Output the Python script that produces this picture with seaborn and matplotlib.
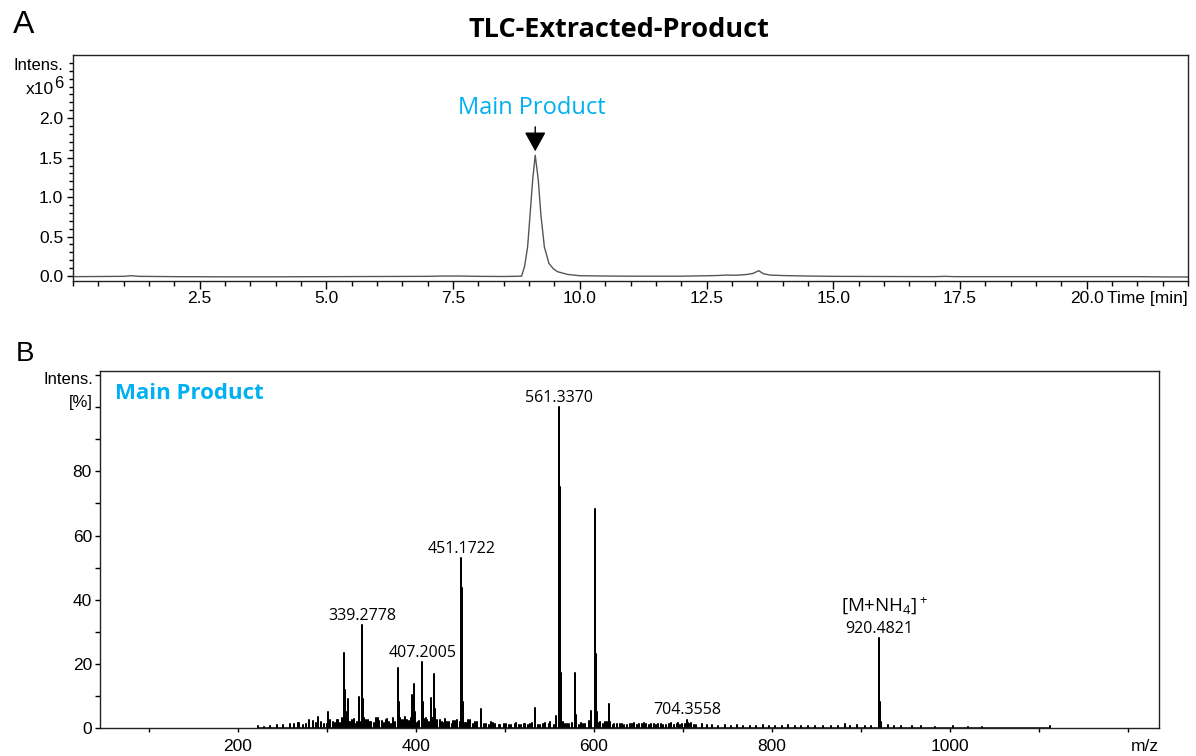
import numpy as np
import pandas as pd
import matplotlib
matplotlib.use("Agg")
import matplotlib.pyplot as plt
from matplotlib.ticker import FixedLocator, MultipleLocator, NullFormatter
import seaborn as sns

# ---------------- data ----------------
# Panel A: chromatogram (time in min, intensity x10^6)
chrom_time = [0.0, 0.5, 1.0, 1.15, 1.3, 2.0, 3.0, 4.0, 5.0, 6.0, 7.0, 7.3, 7.6, 8.0, 8.5,
              8.85, 8.91, 8.97, 9.02, 9.07, 9.12, 9.18, 9.23, 9.30, 9.39, 9.48, 9.56, 9.76,
              10.0, 10.5, 11.0, 12.0, 12.7, 12.9, 13.1, 13.3, 13.42, 13.53, 13.62, 13.75,
              14.0, 14.5, 15.0, 16.0, 17.0, 17.2, 17.4, 18.0, 19.0, 20.0, 21.0, 21.6, 22.0]
chrom_int = [-0.008, -0.006, -0.004, 0.004, -0.004, -0.008, -0.01, -0.01, -0.008, -0.006,
             -0.004, 0.0, 0.0, -0.004, -0.006, -0.002, 0.12, 0.37, 0.79, 1.22, 1.53, 1.22,
             0.79, 0.37, 0.16, 0.09, 0.055, 0.02, 0.004, 0.0, -0.002, -0.002, 0.006, 0.012,
             0.01, 0.02, 0.034, 0.067, 0.03, 0.012, 0.006, 0.0, -0.004, -0.006, -0.008,
             -0.004, -0.008, -0.008, -0.008, -0.008, -0.008, -0.012, -0.012]
chrom_yticks = [0.0, 0.5, 1.0, 1.5, 2.0]
chrom_xticks = [2.5, 5.0, 7.5, 10.0, 12.5, 15.0, 17.5, 20.0]

# Panel B: mass spectrum, main peaks (m/z, relative intensity %)
peak_mz = [268.2, 280.2, 290.2, 301.2, 319.3, 319.8, 320.3, 321.3, 323.3, 336.2, 339.28,
           339.8, 340.3, 341.3, 355.2, 380.2, 380.7, 381.2, 382.2, 395.2, 396.2, 398.2,
           399.2, 407.2, 407.7, 408.2, 409.2, 417.2, 418.2, 420.6, 421.6, 451.17, 451.5,
           452.2, 453.2, 473.2, 534.3, 557.5, 561.34, 561.6, 562.34, 563.34, 579.3, 580.3,
           596.5, 601.3, 601.6, 602.3, 603.3, 617.3, 618.3, 704.36, 705.4, 920.48, 920.8,
           921.5, 922.5]
peak_int = [1.5, 2.5, 3.4, 5.0, 23.3, 12.0, 10.0, 5.0, 9.0, 9.6, 32.0, 12.0, 9.0, 3.0, 3.0,
            18.6, 8.0, 7.0, 3.0, 10.3, 4.0, 13.7, 5.0, 20.5, 8.0, 7.0, 2.5, 9.3, 3.0, 16.8,
            6.0, 52.9, 43.5, 35.0, 8.0, 6.0, 6.2, 3.8, 100.0, 75.0, 34.0, 17.0, 17.0, 4.0,
            5.3, 68.4, 51.6, 23.0, 5.0, 7.5, 2.0, 2.5, 1.5, 28.0, 15.0, 8.1, 2.0]
# small background signals
noise_mz = [222, 229, 236, 244, 251, 258, 263, 268, 273, 277, 284, 288, 293, 297, 304, 307,
            311, 315, 326, 330, 334, 344, 348, 353, 357, 362, 366, 370, 374, 377, 385, 388,
            392, 402, 411, 413, 424, 429, 433, 437, 442, 446, 456, 461, 466, 479, 484, 489,
            495, 501, 507, 513, 518, 523, 528, 539, 545, 551, 567, 572, 585, 590, 607, 612,
            623, 629, 634, 640, 645, 651, 656, 662, 667, 672, 678, 684, 690, 695, 699, 709,
            715, 721, 727, 733, 740, 747, 754, 761, 768, 775, 782, 790, 797, 804, 811, 818,
            826, 833, 841, 849, 857, 866, 874, 882, 888, 896, 905, 911, 931, 937, 945, 957,
            968, 983, 1003, 1020, 1036, 1112]
noise_int = [0.5, 0.4, 0.6, 0.8, 1.0, 1.4, 1.2, 1.6, 0.9, 1.3,
             2.2, 1.5, 2.0, 1.4, 2.6, 1.8, 2.4, 1.6, 2.0, 2.8,
             1.8, 2.5, 2.0, 1.6, 3.0, 2.2, 2.6, 1.8, 3.2, 2.0,
             2.4, 3.5, 2.2, 2.0, 3.0, 2.4, 2.6, 2.0, 2.8, 1.8,
             2.2, 2.6, 1.6, 2.4, 1.8, 1.4, 2.0, 1.2, 1.0, 1.4,
             1.0, 1.6, 0.9, 1.2, 1.4, 1.0, 1.6, 1.8, 1.2, 1.4,
             1.6, 1.4, 1.8, 2.0, 1.4, 1.2, 1.0, 1.3, 1.5, 1.1,
             1.6, 1.0, 1.2, 1.4, 0.9, 1.3, 1.0, 1.6, 1.2, 1.5,
             1.0, 1.2, 0.8, 1.0, 0.6, 0.9, 0.7, 0.8, 0.6, 0.7,
             0.6, 0.8, 0.5, 0.7, 0.6, 0.8, 0.5, 0.6, 0.7, 0.5,
             0.6, 0.5, 0.7, 1.4, 0.6, 1.0, 0.5, 0.6, 0.8, 0.6,
             0.5, 0.6, 0.5, 0.4, 0.5, 0.4, 0.4, 0.5]
noise2_mz = [300, 302, 309, 313, 317, 322, 325, 328, 332, 337, 343, 346, 350, 359, 364, 368,
             372, 376, 383, 387, 390, 394, 400, 404, 410, 415, 419, 423, 427, 431, 435, 440,
             444, 449, 455, 459, 464, 469, 476, 482, 487, 493, 499, 505, 511, 516, 521, 526,
             531, 537, 543, 549, 555, 565, 570, 575, 583, 588, 594, 605, 610, 615, 621, 626,
             632, 637, 643, 648, 654, 659, 664, 670, 675, 681, 687, 693, 697, 702, 707, 712]
noise2_int = [1.2, 2.0, 1.6, 2.4, 3.0, 2.2, 1.8, 2.6, 1.4, 2.0,
              1.6, 2.4, 1.8, 2.2, 1.6, 2.8, 1.4, 2.0, 2.6, 1.8,
              2.4, 3.0, 1.6, 2.2, 2.8, 2.0, 3.2, 1.8, 2.4, 1.6,
              2.0, 1.4, 2.2, 1.8, 1.6, 2.4, 1.2, 1.8, 1.4, 1.0,
              1.6, 0.8, 1.2, 1.0, 1.4, 0.8, 1.2, 1.0, 1.6, 0.9,
              1.2, 1.4, 1.0, 1.8, 1.2, 1.6, 1.0, 1.4, 2.2, 1.6,
              1.2, 1.8, 1.0, 1.4, 1.2, 0.8, 1.3, 1.0, 1.4, 1.1,
              1.2, 0.9, 1.3, 1.0, 1.5, 1.2, 0.9, 1.4, 1.1, 0.8]
label_mz = [339.28, 407.2, 451.17, 561.34, 704.36, 920.48]
label_int = [32.0, 20.5, 52.9, 100.0, 2.5, 28.0]
label_text = ["339.2778", "407.2005", "451.1722", "561.3370", "704.3558", "920.4821"]
ms_yticks = [0, 20, 40, 60, 80]
ms_xticks = [200, 400, 600, 800, 1000]

assert len(chrom_time) == len(chrom_int)
assert len(peak_mz) == len(peak_int)
assert len(noise_mz) == len(noise_int)
assert len(noise2_mz) == len(noise2_int)

# ---------------- style ----------------
sns.set_style("ticks")
plt.rcParams["font.family"] = ["Liberation Sans", "DejaVu Sans"]
plt.rcParams["mathtext.fontset"] = "custom"
plt.rcParams["mathtext.rm"] = "Open Sans"
plt.rcParams["mathtext.it"] = "Open Sans:italic"
plt.rcParams["mathtext.bf"] = "Open Sans:bold"
plt.rcParams["mathtext.sf"] = "Liberation Sans"
for k in ["text.color", "axes.labelcolor", "xtick.color", "ytick.color"]:
    plt.rcParams[k] = "black"
CYAN = "#00B0F0"
ANN = "Open Sans"

W, H = 1196, 756
fig = plt.figure(figsize=(W / 100, H / 100), dpi=100)
ax1 = fig.add_axes([73 / W, 1 - 281 / H, 1115 / W, 226 / H])
ax2 = fig.add_axes([100 / W, 1 - 728 / H, 1059 / W, 357 / H])

# ---------------- panel A ----------------
chrom = pd.DataFrame({"time": chrom_time, "intensity": chrom_int})
sns.lineplot(data=chrom, x="time", y="intensity", ax=ax1, color="#555555",
             linewidth=1.0, estimator=None)
ax1.set_xlim(0, 22.0)
ax1.set_ylim(-0.063, 2.8)
ax1.set_xlabel("")
ax1.set_ylabel("")
ax1.xaxis.set_major_locator(FixedLocator(chrom_xticks))
ax1.set_xticklabels([f"{v:.1f}" for v in chrom_xticks])
ax1.xaxis.set_minor_locator(MultipleLocator(0.5))
ax1.yaxis.set_major_locator(FixedLocator(chrom_yticks))
ax1.set_yticklabels([f"{v:.1f}" for v in chrom_yticks])
ax1.yaxis.set_minor_locator(FixedLocator(np.arange(0, 2.75, 0.1)))
ax1.yaxis.set_minor_formatter(NullFormatter())
ax1.tick_params(axis="x", which="major", length=5.8, width=1, pad=1.5, labelsize=12.5)
ax1.tick_params(axis="x", which="minor", length=3.4, width=1)
ax1.tick_params(axis="y", which="major", length=4, width=1, pad=3, labelsize=12.5)
ax1.tick_params(axis="y", which="minor", length=2.6, width=1)
for s in ax1.spines.values():
    s.set_visible(True)
    s.set_linewidth(1.0)
    s.set_color("#222222")

ax1.annotate("Time [min]", xy=(1, 0), xycoords="axes fraction", xytext=(0, -7.4),
             textcoords="offset points", ha="right", va="top", fontsize=12.5)
ax1.text(9.05, 2.13, "Main Product", color=CYAN, fontsize=17, family=ANN,
         ha="center", va="center")
ax1.annotate("", xy=(9.12, 1.58), xytext=(9.12, 1.89),
             arrowprops=dict(arrowstyle="-|>,head_length=0.4,head_width=0.22",
                             color="black", lw=1, mutation_scale=30,
                             shrinkA=0, shrinkB=0))

fig.text(63 / W, 1 - 65 / H, "Intens.", ha="right", va="center", fontsize=12)
fig.text(54 / W, 1 - 90 / H, "x10", ha="right", va="center", fontsize=12.5)
fig.text(54.5 / W, 1 - 84 / H, "6", ha="left", va="center", fontsize=12)

# ---------------- panel B ----------------
sticks = sorted(list(zip(peak_mz, peak_int)) + list(zip(noise_mz, noise_int))
                + list(zip(noise2_mz, noise2_int)))
prof_x, prof_y = [], []
for m, h in sticks:
    prof_x += [m, m, m]
    prof_y += [0.0, h, 0.0]
spec = pd.DataFrame({"mz": prof_x, "intensity": prof_y})
sns.lineplot(data=spec, x="mz", y="intensity", ax=ax2, color="black", linewidth=1.1,
             estimator=None, sort=False)
ax2.set_xlim(45, 1235)
ax2.set_ylim(0, 111.3)
ax2.set_xlabel("")
ax2.set_ylabel("")
ax2.xaxis.set_major_locator(FixedLocator(ms_xticks))
ax2.set_xticklabels([str(v) for v in ms_xticks])
ax2.xaxis.set_minor_locator(FixedLocator(np.arange(100, 1201, 100)))
ax2.yaxis.set_major_locator(FixedLocator(ms_yticks))
ax2.set_yticklabels([str(v) for v in ms_yticks])
ax2.yaxis.set_minor_locator(FixedLocator(np.arange(10, 111, 10)))
ax2.tick_params(axis="x", which="both", length=3.2, width=1, pad=4.5, labelsize=12.5)
ax2.tick_params(axis="y", which="both", length=3.8, width=1, pad=2, labelsize=12.5)
for s in ax2.spines.values():
    s.set_visible(True)
    s.set_linewidth(1.0)
    s.set_color("#222222")

ax2.annotate("m/z", xy=(1, 0), xycoords="axes fraction", xytext=(0, -7.8),
             textcoords="offset points", ha="right", va="top", fontsize=12.5)

for m, h, t in zip(label_mz, label_int, label_text):
    ax2.annotate(t, xy=(m, h), xytext=(0, 4), textcoords="offset points",
                 ha="center", va="baseline", fontsize=11.5, family=ANN)
ax2.annotate(r"[M+NH$_4$]$^+$", xy=(920.48 + 6, 28.0), xytext=(0, 19),
             textcoords="offset points", ha="center", va="baseline",
             fontsize=13.5, family=ANN)

fig.text(115 / W, 1 - 393 / H, "Main Product", color=CYAN, fontsize=16,
         fontweight="bold", family=ANN, ha="left", va="center")
fig.text(93 / W, 1 - 380 / H, "Intens.", ha="right", va="center", fontsize=12)
fig.text(93 / W, 1 - 402 / H, "[%]", ha="right", va="center", fontsize=12)

# ---------------- panel letters & title ----------------
fig.text(13 / W, 1 - 25 / H, "A", fontsize=23, ha="left", va="center")
fig.text(16 / W, 1 - 354 / H, "B", fontsize=20, ha="left", va="center")
fig.text(619 / W, 1 - 30 / H, "TLC-Extracted-Product", fontsize=19.5, fontweight="bold",
         family=ANN, ha="center", va="center")

fig.savefig("out.png", dpi=100)
